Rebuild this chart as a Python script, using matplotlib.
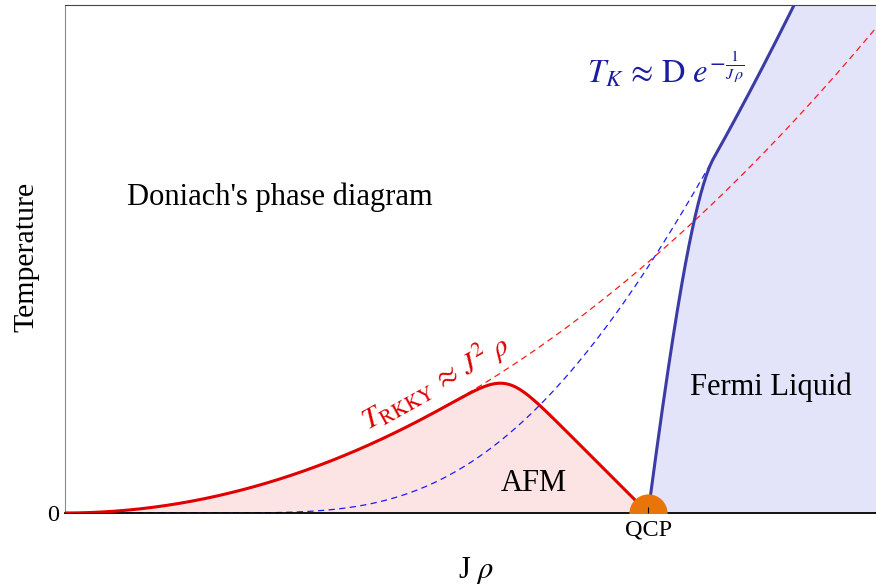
import numpy as np
import matplotlib
matplotlib.use("Agg")
import matplotlib.pyplot as plt

# --- model parameters (J rho on x, temperature on y, both in plot units) ---
RKKY_COEF = 0.955        # T_RKKY = RKKY_COEF * x^2
KONDO_D = 18.03          # T_K = KONDO_D * exp(-KONDO_C / x)
KONDO_C = 2.6
QCP_X = 0.719            # quantum critical point
JOIN_X = 0.80            # where the Fermi-liquid boundary merges with T_K
NEEL_SLOPE = 1.596       # slope of the AFM boundary approaching the QCP
NEEL_SHARPNESS = 7       # smoothness of the AFM dome top

x_ticks = [QCP_X]
x_tick_labels = ["QCP"]
y_ticks = [0.0]
y_tick_labels = ["0"]

plt.rcParams["font.family"] = ["Liberation Serif", "DejaVu Serif"]
plt.rcParams["mathtext.fontset"] = "stix"


def t_rkky(x):
    return RKKY_COEF * x ** 2


def t_kondo(x):
    x = np.asarray(x, dtype=float)
    out = np.zeros_like(x)
    pos = x > 0
    out[pos] = KONDO_D * np.exp(-KONDO_C / x[pos])
    return out


def t_neel(x):
    p = t_rkky(x)
    lin = NEEL_SLOPE * (QCP_X - x)
    with np.errstate(divide="ignore"):
        val = (p ** (-NEEL_SHARPNESS) + lin ** (-NEEL_SHARPNESS)) ** (-1.0 / NEEL_SHARPNESS)
    val = np.where(x <= 0, 0.0, val)
    return np.clip(val, 0, None)


def t_fermi(x):
    s = np.clip((x - QCP_X) / (JOIN_X - QCP_X), 0, 1)
    return t_kondo(x) * (1 - (1 - s) ** 2)


fig = plt.figure(figsize=(8.76, 5.86), dpi=100)
ax = fig.add_axes([65 / 876, 73 / 586, 811 / 876, 508 / 586])
ax.set_xlim(0, 1)
ax.set_ylim(0, 1)

# AFM dome
xa = np.linspace(0, QCP_X, 600)
ta = t_neel(xa)
ax.fill_between(xa, 0, ta, color="#fde4e4", lw=0, zorder=1)

# Fermi-liquid region
xf = np.linspace(QCP_X, 0.95, 800)
tf = t_fermi(xf)
ax.fill(np.concatenate([xf, [1.0, 1.0]]), np.concatenate([tf, [1.0, 0.0]]),
        color="#e3e3fa", lw=0, zorder=1)

# asymptotic scales
xr = np.linspace(0, 1, 400)
ax.plot(xr, t_rkky(xr), color="#ff1a1a", lw=0.9, ls=(0, (5, 3.5)), zorder=2)
xk = np.linspace(0.05, JOIN_X, 400)
ax.plot(xk, t_kondo(xk), color="#1a1aff", lw=0.9, ls=(0, (5, 3.5)), zorder=2)

# phase boundaries
ax.plot(xa, ta, color="#e00000", lw=2.2, zorder=2.6, solid_capstyle="butt")
ax.plot(xf, tf, color="#3c3ca6", lw=2.2, zorder=2.6)

# quantum critical point
ax.plot([QCP_X], [0], "o", color="#e8740a", markersize=27.5, mec="none",
        clip_on=True, zorder=2.7)

# frame
ax.spines["right"].set_visible(False)
ax.spines["left"].set_color("#8a8a8a")
ax.spines["top"].set_color("#444444")
ax.spines["bottom"].set_color("black")
ax.spines["bottom"].set_linewidth(1.3)
ax.set_axisbelow(False)
ax.xaxis.set_zorder(3)
ax.yaxis.set_zorder(3)

ax.set_xticks(x_ticks)
ax.set_xticklabels(x_tick_labels)
ax.set_yticks(y_ticks)
ax.set_yticklabels(y_tick_labels)
ax.tick_params(axis="x", direction="in", length=4.5, width=0.8, pad=5, labelsize=17.5)
ax.tick_params(axis="y", direction="in", length=0, pad=4, labelsize=17.5)
ax.tick_params(top=False, right=False)

ax.set_xlabel(r"J $\rho$", fontsize=22)
ax.xaxis.set_label_coords((476 - 65) / 811, -(571 - 513) / 508)
ax.xaxis.label.set_va("center")
ax.set_ylabel("Temperature", fontsize=21.5)
ax.yaxis.set_label_coords((26 - 65) / 811, (513 - 257) / 508)
ax.yaxis.label.set_va("center")

# annotations
ax.text(0.0764, 0.606, "Doniach's phase diagram", fontsize=22, ha="left", va="baseline")
ax.text(0.578, 0.0433, "AFM", fontsize=22, ha="center", va="baseline")
ax.text(0.7707, 0.232, "Fermi Liquid", fontsize=22, ha="left", va="baseline")
ax.text(0.6437, 0.8465, r"$T_K\,\approx\,\mathrm{D}\ e^{-\frac{1}{J\,\rho}}$",
        fontsize=23.5, color="#1c1ca0", ha="left", va="baseline")
ax.text((436 - 65) / 811, (513 - 383) / 508, r"$T_{\mathrm{RKKY}}\,\approx\,J^2\ \rho$",
        fontsize=21.5, color="#dd0000", ha="center", va="center", rotation=29)

fig.savefig("out.png", dpi=100)
